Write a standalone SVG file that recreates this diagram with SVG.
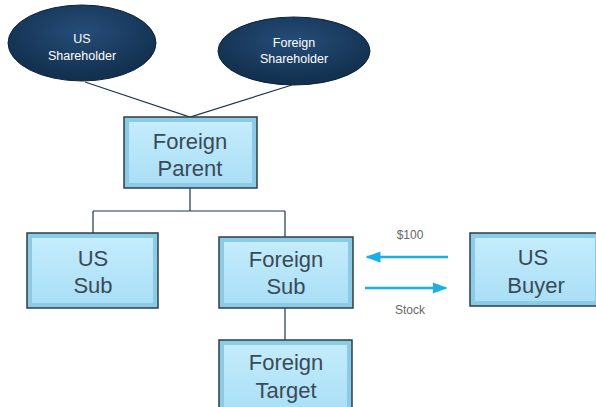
<svg xmlns="http://www.w3.org/2000/svg" width="596" height="407" viewBox="0 0 596 407">
<defs>
<radialGradient id="eg" cx="50%" cy="35%" r="60%">
<stop offset="0" stop-color="#264d78"/>
<stop offset="1" stop-color="#12304f"/>
</radialGradient>
<linearGradient id="bg" x1="0" y1="0" x2="0" y2="1">
<stop offset="0" stop-color="#c4ecfc"/>
<stop offset="1" stop-color="#aadff6"/>
</linearGradient>
<marker id="ah" viewBox="0 0 10 10" refX="9" refY="5" markerWidth="6" markerHeight="4.5" orient="auto" preserveAspectRatio="none">
<path d="M0,0 L10,5 L0,10 z" fill="#19b0ea"/>
</marker>
<style>
.ell{fill:url(#eg);stroke:#0d2238;stroke-width:1}
.et{font-family:"Liberation Sans",Arial,sans-serif;font-size:12.5px;fill:#ffffff;text-anchor:middle}
.box{fill:#8ccbe6;stroke:#2e3c48;stroke-width:1.5}
.inner{fill:url(#bg)}
.bt{font-family:"Liberation Sans",Arial,sans-serif;font-size:22px;fill:#3a4a58;text-anchor:middle}
.lt{font-family:"Liberation Sans",Arial,sans-serif;font-size:12px;fill:#666666;text-anchor:middle}
.con{fill:none;stroke:#1b3550;stroke-width:1.2}
.arr{fill:none;stroke:#19b0ea;stroke-width:2.5;marker-end:url(#ah)}
</style>
</defs>
<g id="connectors">
<path class="con" d="M85,82 L190,117 L292,85"/>
<path class="con" d="M190,188 V211 M93,211 H285 M93,211 V233 M285,211 V237"/>
<path class="con" d="M285,308 V340"/>
<path class="arr" d="M448,257 H367"/>
<path class="arr" d="M365,288 H446"/>
<text class="lt" x="410" y="239">$100</text>
<text class="lt" x="410" y="314">Stock</text>
</g>
<g id="us-shareholder">
<ellipse class="ell" cx="82" cy="43" rx="74" ry="38"/>
<text class="et" x="82" y="43">US</text>
<text class="et" x="82" y="60">Shareholder</text>
</g>
<g id="foreign-shareholder">
<ellipse class="ell" cx="294" cy="51" rx="76" ry="34"/>
<text class="et" x="294" y="47">Foreign</text>
<text class="et" x="294" y="63">Shareholder</text>
</g>
<g id="foreign-parent">
<rect class="box" x="124" y="117" width="133" height="71"/>
<rect class="inner" x="129" y="122" width="123" height="61"/>
<text class="bt" x="190" y="149">Foreign</text>
<text class="bt" x="190" y="176">Parent</text>
</g>
<g id="us-sub">
<rect class="box" x="27" y="233" width="131" height="75"/>
<rect class="inner" x="32" y="238" width="121" height="65"/>
<text class="bt" x="93" y="266">US</text>
<text class="bt" x="93" y="293">Sub</text>
</g>
<g id="foreign-sub">
<rect class="box" x="219" y="237" width="134" height="71"/>
<rect class="inner" x="224" y="242" width="124" height="61"/>
<text class="bt" x="286" y="267">Foreign</text>
<text class="bt" x="286" y="294">Sub</text>
</g>
<g id="foreign-target">
<rect class="box" x="219" y="340" width="133" height="75"/>
<rect class="inner" x="224" y="345" width="123" height="65"/>
<text class="bt" x="286" y="370">Foreign</text>
<text class="bt" x="286" y="398">Target</text>
</g>
<g id="us-buyer">
<rect class="box" x="470" y="233" width="130" height="73"/>
<rect class="inner" x="475" y="238" width="120" height="63"/>
<text class="bt" x="533" y="265">US</text>
<text class="bt" x="536" y="293">Buyer</text>
</g>
</svg>
